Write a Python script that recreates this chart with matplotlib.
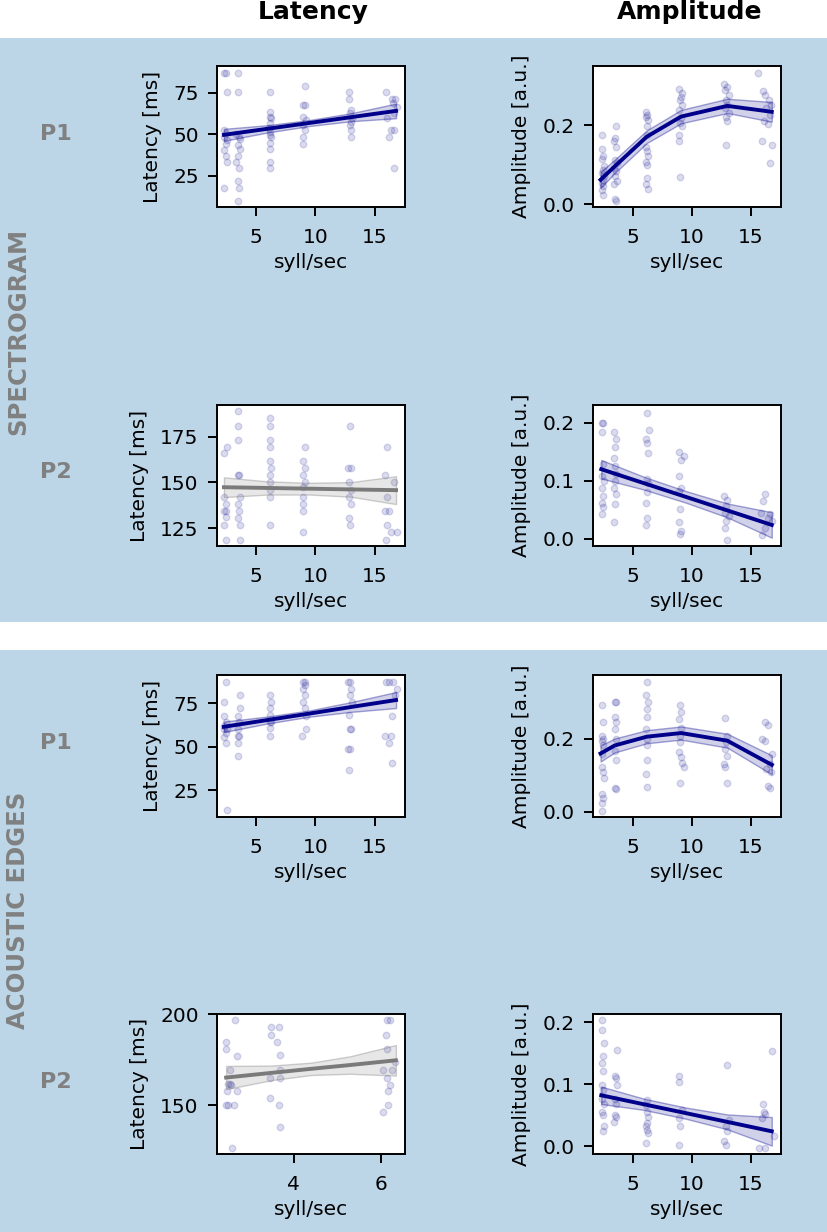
import matplotlib

matplotlib.use("Agg")
import matplotlib.pyplot as plt
from matplotlib.patches import Rectangle

# --- data ---------------------------------------------------------------
# (syll/sec, value) per trial, one list per panel
spec_p1_lat = [
    (2.4, 87), (2.5, 87), (2.6, 75.4), (2.4, 52.6), (2.5, 51), (2.4, 48.6), (2.6, 46.6),
    (2.5, 44.2), (2.4, 40.6), (2.5, 37), (2.6, 33), (2.4, 17.6),
    (3.5, 87), (3.5, 75.4), (3.4, 50), (3.6, 48), (3.7, 47), (3.5, 43.6), (3.7, 41),
    (3.5, 37), (3.4, 33), (3.6, 29.6), (3.5, 21.6), (3.6, 17.6), (3.5, 10),
    (6.2, 75.4), (6.2, 63.6), (6.2, 60.6), (6.3, 59.6), (6.2, 56.6), (6.1, 53.6), (6.2, 51.6),
    (6.2, 49.6), (6.3, 48.6), (6.2, 44.6), (6.2, 41), (6.2, 33), (6.2, 29.6),
    (9.1, 79), (9.0, 67.6), (9.1, 67.6), (9.0, 60.6), (9.2, 58.6), (9.0, 55.6), (9.1, 52.6),
    (9.0, 48.6), (9.0, 44.2),
    (12.8, 75.4), (12.8, 71.4), (13.0, 64.6), (12.9, 62.6), (13.1, 59.6), (13.0, 57.6),
    (12.9, 55.6), (13.0, 52.6), (13.0, 48.6),
    (15.9, 75.4), (16.4, 71.4), (16.7, 71.4), (16.5, 68.6), (16.8, 66.6), (16.6, 63),
    (16.0, 59.6), (16.3, 52.6), (16.6, 52.6), (16.2, 48.6), (16.6, 29.6),
]
spec_p1_amp = [
    (2.4, 0.176), (2.4, 0.14), (2.5, 0.121), (2.4, 0.114), (2.6, 0.096), (2.5, 0.087),
    (2.4, 0.079), (2.6, 0.071), (2.5, 0.062), (2.4, 0.055), (2.5, 0.047), (2.4, 0.037), (2.5, 0.024),
    (3.6, 0.197), (3.5, 0.167), (3.4, 0.159), (3.6, 0.146), (3.5, 0.113), (3.7, 0.104),
    (3.4, 0.092), (3.6, 0.083), (3.5, 0.071), (3.7, 0.058), (3.4, 0.05), (3.5, 0.012), (3.6, 0.009),
    (6.1, 0.234), (6.2, 0.226), (6.1, 0.22), (6.3, 0.213), (6.2, 0.197), (6.2, 0.176),
    (6.1, 0.146), (6.2, 0.134), (6.3, 0.121), (6.1, 0.108), (6.2, 0.1), (6.2, 0.066),
    (6.1, 0.05), (6.3, 0.039),
    (8.9, 0.291), (9.2, 0.281), (9.1, 0.272), (9.0, 0.264), (9.2, 0.251), (8.9, 0.239),
    (9.1, 0.218), (9.0, 0.205), (9.2, 0.197), (8.9, 0.176), (8.9, 0.159), (9.0, 0.069),
    (12.7, 0.304), (13.0, 0.297), (12.8, 0.289), (13.1, 0.276), (12.9, 0.264), (13.0, 0.251),
    (12.8, 0.243), (13.1, 0.23), (12.9, 0.222), (13.0, 0.212), (12.9, 0.149),
    (15.6, 0.333), (16.0, 0.287), (16.2, 0.276), (16.5, 0.264), (16.7, 0.251), (16.3, 0.243),
    (16.6, 0.226), (16.1, 0.212), (16.4, 0.203), (15.9, 0.159), (16.8, 0.149), (16.6, 0.104),
]
spec_p2_lat = [
    (2.4, 165.9), (2.6, 169.5), (2.4, 142.2), (2.5, 138.5), (2.4, 134.3), (2.5, 131.2),
    (2.4, 126.6), (2.5, 118.8), (2.5, 134.3),
    (3.5, 189), (3.5, 181), (3.5, 173.2), (3.6, 154), (3.5, 154), (3.7, 142), (3.5, 138.5),
    (3.6, 134.3), (3.5, 130.8), (3.7, 126.6), (3.7, 118.8),
    (6.2, 185), (6.2, 181), (6.2, 173.2), (6.2, 169.5), (6.2, 161.7), (6.3, 157.7), (6.2, 154),
    (6.2, 150.4), (6.2, 145.8), (6.2, 142.2), (6.2, 126.6),
    (9.1, 169.5), (9.0, 161.7), (9.1, 157.7), (9.0, 154), (9.1, 150.4), (9.0, 147.6),
    (9.0, 142.2), (9.0, 138.5), (9.0, 134.3), (9.0, 123),
    (12.9, 181), (12.7, 157.7), (13.0, 157.7), (12.8, 150.4), (13.0, 145.8), (12.8, 142.2),
    (13.0, 138.5), (12.8, 130.8), (12.9, 126.6),
    (16.0, 169.5), (15.8, 154), (16.6, 150.4), (16.0, 142.2), (15.8, 134.3), (16.2, 134.3),
    (16.0, 126.6), (16.3, 123), (16.8, 123), (15.9, 118.8),
]
spec_p2_amp = [
    (2.4, 0.2), (2.5, 0.2), (2.4, 0.185), (2.5, 0.129), (2.4, 0.109), (2.6, 0.1), (2.4, 0.088),
    (2.5, 0.074), (2.4, 0.062), (2.5, 0.054), (2.4, 0.042),
    (3.4, 0.185), (3.6, 0.172), (3.5, 0.158), (3.4, 0.14), (3.5, 0.126), (3.6, 0.112),
    (3.5, 0.1), (3.4, 0.088), (3.6, 0.078), (3.5, 0.06), (3.4, 0.028),
    (6.2, 0.218), (6.4, 0.187), (6.1, 0.172), (6.2, 0.166), (6.3, 0.148), (6.2, 0.103),
    (6.3, 0.097), (6.2, 0.08), (6.1, 0.062), (6.2, 0.036), (6.1, 0.023),
    (8.9, 0.149), (9.3, 0.143), (9.1, 0.136), (8.9, 0.109), (9.1, 0.088), (8.9, 0.083),
    (9.0, 0.051), (8.9, 0.028), (9.1, 0.013), (9.0, 0.0075),
    (12.7, 0.074), (13.0, 0.066), (12.9, 0.057), (12.8, 0.045), (13.1, 0.039), (12.9, 0.031),
    (12.8, 0.019), (13.0, -0.002),
    (16.2, 0.078), (16.0, 0.065), (15.8, 0.045), (16.6, 0.042), (16.4, 0.036), (16.8, 0.031),
    (16.2, 0.019), (15.9, 0.006),
]
edge_p1_lat = [
    (2.5, 87.5), (2.4, 76), (2.4, 67.7), (2.5, 64.4), (2.4, 62), (2.6, 60), (2.5, 58),
    (2.4, 55.8), (2.5, 52.3), (2.6, 13.5), (2.4, 60),
    (3.7, 79.8), (3.7, 72.1), (3.5, 67.7), (3.6, 64.4), (3.5, 60), (3.5, 56.2), (3.6, 56.2),
    (3.5, 52.3), (3.5, 44.6),
    (6.2, 79.8), (6.3, 76), (6.2, 72.1), (6.2, 68.3), (6.2, 64.4), (6.2, 60.6), (6.2, 56.2),
    (6.3, 64.4),
    (9.1, 87.5), (9.0, 87.5), (9.1, 85.6), (9.0, 83.1), (9.1, 79.8), (9.0, 76), (9.1, 72.1),
    (9.2, 67.7), (9.2, 60), (8.9, 56.2),
    (12.7, 87.5), (12.9, 87.5), (13.0, 83.1), (12.9, 79.8), (13.1, 76), (12.8, 68.3),
    (12.9, 60), (13.0, 60), (12.7, 48.5), (12.9, 48.5), (12.8, 36.9),
    (15.9, 87.5), (16.2, 87.5), (16.5, 87.5), (16.8, 83.1), (16.7, 79.8), (16.4, 67.7),
    (15.8, 56.2), (16.3, 56.2), (16.2, 52.3), (16.4, 40.4),
]
edge_p1_amp = [
    (2.4, 0.292), (2.5, 0.246), (2.4, 0.209), (2.5, 0.2), (2.4, 0.195), (2.5, 0.182),
    (2.4, 0.159), (2.4, 0.122), (2.5, 0.108), (2.6, 0.094), (2.4, 0.048), (2.5, 0.039),
    (2.4, 0.025), (2.4, 0.002),
    (3.5, 0.301), (3.6, 0.301), (3.5, 0.26), (3.6, 0.246), (3.5, 0.228), (3.6, 0.2),
    (3.5, 0.168), (3.6, 0.142), (3.5, 0.066), (3.6, 0.062),
    (6.2, 0.357), (6.1, 0.32), (6.3, 0.301), (6.2, 0.283), (6.2, 0.26), (6.1, 0.228),
    (6.2, 0.2), (6.2, 0.182), (6.2, 0.142), (6.1, 0.103), (6.2, 0.068),
    (9.0, 0.292), (9.1, 0.274), (8.9, 0.255), (9.1, 0.23), (9.0, 0.209), (9.0, 0.191),
    (8.9, 0.163), (9.1, 0.149), (9.2, 0.135), (9.3, 0.122), (9.0, 0.08),
    (12.8, 0.258), (13.0, 0.209), (12.9, 0.191), (12.8, 0.172), (13.0, 0.154), (12.7, 0.131),
    (12.8, 0.124), (13.0, 0.08),
    (16.2, 0.246), (16.4, 0.237), (15.9, 0.2), (16.2, 0.195), (16.8, 0.159), (16.6, 0.131),
    (16.3, 0.117), (16.7, 0.108), (16.4, 0.071), (16.6, 0.066),
]
edge_p2_lat = [
    (2.44, 184.8), (2.44, 181.1), (2.66, 196.7), (2.69, 177.1), (2.54, 169.2), (2.50, 161.5),
    (2.55, 161.5), (2.57, 161), (2.47, 157.9), (2.70, 157.9), (2.44, 150), (2.50, 150),
    (2.63, 150), (2.59, 126.2),
    (3.47, 193), (3.66, 193), (3.47, 188.8), (3.63, 184.8), (3.69, 177.5), (3.69, 169.2),
    (3.46, 165.2), (3.68, 165.2), (3.46, 153.7), (3.66, 150), (3.69, 138.1),
    (6.14, 196.7), (6.21, 196.7), (6.12, 188.8), (6.14, 181.1), (6.33, 173.8), (6.06, 169.2),
    (6.25, 169.2), (6.14, 165.2), (6.21, 161), (6.18, 157.9), (6.18, 150), (6.06, 146),
]
edge_p2_amp = [
    (2.4, 0.204), (2.4, 0.188), (2.6, 0.167), (2.5, 0.145), (2.4, 0.134), (2.5, 0.122),
    (2.4, 0.099), (2.5, 0.091), (2.4, 0.077), (2.6, 0.069), (2.4, 0.056), (2.5, 0.051),
    (2.6, 0.033), (2.5, 0.025),
    (3.7, 0.155), (3.5, 0.113), (3.6, 0.11), (3.7, 0.099), (3.5, 0.077), (3.6, 0.069),
    (3.5, 0.051), (3.6, 0.048), (3.4, 0.04),
    (6.2, 0.075), (6.1, 0.067), (6.2, 0.056), (6.3, 0.048), (6.2, 0.037), (6.1, 0.033),
    (6.2, 0.027), (6.3, 0.022), (6.1, 0.006),
    (8.9, 0.113), (8.9, 0.104), (9.2, 0.059), (8.9, 0.045), (9.0, 0.032), (8.9, 0.002),
    (13.0, 0.131), (13.1, 0.042), (12.9, 0.032), (13.0, 0.024), (12.7, 0.008), (12.9, 0.002),
    (16.8, 0.153), (16.0, 0.069), (16.1, 0.056), (16.2, 0.052), (15.9, 0.045), (16.9, 0.016),
    (15.7, -0.002), (16.2, -0.002),
]

# model fits: x, prediction, lower / upper CI
fit_x_lin = [2.36, 6.0, 9.5, 13.0, 16.75]
fit_x_quad = [2.3, 3.5, 6.2, 9.1, 13.0, 16.75]
fit_x_short = [2.45, 3.5, 4.4, 5.3, 6.35]

spec_p1_lat_fit = ([49.6, 53.24, 56.74, 60.24, 64.0],
                   [46.0, 51.0, 54.9, 57.8, 59.6], [53.2, 55.4, 58.5, 62.6, 68.4])
spec_p1_amp_fit = ([0.062, 0.096, 0.171, 0.222, 0.249, 0.234],
                   [0.042, 0.079, 0.155, 0.205, 0.231, 0.209],
                   [0.082, 0.113, 0.187, 0.239, 0.267, 0.259])
spec_p2_lat_fit = ([147.4, 147.0, 146.6, 146.2, 145.8],
                   [142.0, 143.4, 143.4, 142.2, 138.2], [152.8, 150.6, 149.8, 150.2, 153.4])
spec_p2_amp_fit = ([0.120, 0.0956, 0.0722, 0.0488, 0.0237],
                   [0.104, 0.0846, 0.0622, 0.0368, 0.0017], [0.136, 0.1066, 0.0822, 0.0608, 0.0457])
edge_p1_lat_fit = ([61.5, 65.4, 69.1, 72.9, 76.9],
                   [58.5, 63.4, 67.3, 70.1, 72.3], [64.5, 67.4, 70.9, 75.7, 81.5])
edge_p1_amp_fit = ([0.160, 0.182, 0.206, 0.216, 0.195, 0.129],
                   [0.138, 0.163, 0.188, 0.198, 0.176, 0.103],
                   [0.182, 0.201, 0.224, 0.234, 0.214, 0.155])
edge_p2_lat_fit = ([165.2, 167.8, 170.0, 172.1, 174.7],
                   [158.8, 163.8, 166.6, 167.3, 166.3], [171.6, 171.8, 173.4, 176.9, 183.1])
edge_p2_amp_fit = ([0.0823, 0.0676, 0.0535, 0.0394, 0.0242],
                   [0.0683, 0.0586, 0.0445, 0.0274, 0.0012], [0.0963, 0.0766, 0.0625, 0.0514, 0.0472])

col_titles = ["Latency", "Amplitude"]
row_groups = ["SPECTROGRAM", "ACOUSTIC EDGES"]
row_labels = ["P1", "P2", "P1", "P2"]

W, H = 828, 1232
NAVY = "#00008b"
GREY = "#7a7a7a"
PANEL_BG = "#bcd6e8"


def fx(px):
    return px / W


def fy(py):
    return 1 - py / H


def draw_panel(fig, rect_px, pts, fit_x, fit, sig, xlim, ylim, xticks, yticks, ylabel):
    left, top, right, bottom = rect_px
    ax = fig.add_axes([fx(left), fy(bottom), (right - left) / W, (bottom - top) / H])
    ax.set_facecolor("white")
    x, y = zip(*pts)
    ax.scatter(x, y, s=22, color=NAVY, alpha=0.14, linewidths=1.0, zorder=2)
    c = NAVY if sig else GREY
    pred, lo, hi = fit
    ax.fill_between(fit_x, lo, hi, facecolor=matplotlib.colors.to_rgba(c, 0.18),
                    edgecolor=matplotlib.colors.to_rgba(c, 0.35), linewidth=1.0, zorder=3)
    ax.plot(fit_x, pred, color=c, lw=2.8, zorder=4)
    ax.set_xlim(*xlim)
    ax.set_ylim(*ylim)
    ax.set_xticks(xticks)
    ax.set_yticks(yticks)
    ax.tick_params(labelsize=14.5, length=6.2, width=1.4)
    ax.tick_params(axis="x", pad=9)
    ax.tick_params(axis="y", pad=7)
    for s in ax.spines.values():
        s.set_linewidth(1.4)
    ax.set_xlabel("syll/sec", fontsize=14.5, labelpad=4)
    ax.set_ylabel(ylabel, fontsize=14.5, labelpad=8)
    return ax


def main() -> None:
    fig = plt.figure(figsize=(W / 100, H / 100), dpi=100)
    fig.patch.set_facecolor("white")

    # blue group backgrounds
    fig.add_artist(Rectangle((0, fy(622)), 1, (622 - 38) / H, transform=fig.transFigure,
                             facecolor=PANEL_BG, edgecolor="none", zorder=-5))
    fig.add_artist(Rectangle((0, 0), 1, (1232 - 650) / H, transform=fig.transFigure,
                             facecolor=PANEL_BG, edgecolor="none", zorder=-5))

    lat_cols = (217, 405)
    amp_cols = (593, 781)
    rows = [(66, 207), (405, 546), (675, 817), (1014, 1154)]
    xl_lat = (1.78, 17.5)
    xl_amp = (1.66, 17.53)
    lat_lab = "Latency [ms]"
    amp_lab = "Amplitude [a.u.]"

    r = rows[0]
    draw_panel(fig, (lat_cols[0], r[0], lat_cols[1], r[1]), spec_p1_lat, fit_x_lin,
               spec_p1_lat_fit, True, xl_lat, (6.2, 91), [5, 10, 15], [25, 50, 75], lat_lab)
    draw_panel(fig, (amp_cols[0], r[0], amp_cols[1], r[1]), spec_p1_amp, fit_x_quad,
               spec_p1_amp_fit, True, xl_amp, (-0.007, 0.35), [5, 10, 15], [0.0, 0.2], amp_lab)
    r = rows[1]
    draw_panel(fig, (lat_cols[0], r[0], lat_cols[1], r[1]), spec_p2_lat, fit_x_lin,
               spec_p2_lat_fit, False, xl_lat, (115.3, 192.3), [5, 10, 15], [125, 150, 175], lat_lab)
    draw_panel(fig, (amp_cols[0], r[0], amp_cols[1], r[1]), spec_p2_amp, fit_x_lin,
               spec_p2_amp_fit, True, xl_amp, (-0.0127, 0.231), [5, 10, 15], [0.0, 0.1, 0.2], amp_lab)
    r = rows[2]
    draw_panel(fig, (lat_cols[0], r[0], lat_cols[1], r[1]), edge_p1_lat, fit_x_lin,
               edge_p1_lat_fit, True, xl_lat, (9.6, 91.3), [5, 10, 15], [25, 50, 75], lat_lab)
    draw_panel(fig, (amp_cols[0], r[0], amp_cols[1], r[1]), edge_p1_amp, fit_x_quad,
               edge_p1_amp_fit, True, xl_amp, (-0.014, 0.375), [5, 10, 15], [0.0, 0.2], amp_lab)
    r = rows[3]
    draw_panel(fig, (lat_cols[0], r[0], lat_cols[1], r[1]), edge_p2_lat, fit_x_short,
               edge_p2_lat_fit, False, (2.24, 6.56), (123.1, 200.2), [4, 6], [150, 200], lat_lab)
    draw_panel(fig, (amp_cols[0], r[0], amp_cols[1], r[1]), edge_p2_amp, fit_x_lin,
               edge_p2_amp_fit, True, xl_amp, (-0.0124, 0.2134), [5, 10, 15], [0.0, 0.1, 0.2], amp_lab)

    # column titles
    fig.text(fx(313), fy(12), col_titles[0], fontsize=18, fontweight="bold", ha="center", va="center")
    fig.text(fx(690), fy(12), col_titles[1], fontsize=18, fontweight="bold", ha="center", va="center")

    # row labels
    for lab, yc in zip(row_labels, [134, 472, 743, 1082]):
        fig.text(fx(56), fy(yc), lab, fontsize=16, fontweight="bold", color="gray",
                 ha="center", va="center")
    for lab, yc in zip(row_groups, [331, 910]):
        fig.text(fx(18), fy(yc), lab, fontsize=17.5, fontweight="bold", color="gray",
                 rotation=90, ha="center", va="center")

    fig.savefig("out.png", dpi=100)


if __name__ == "__main__":
    main()
